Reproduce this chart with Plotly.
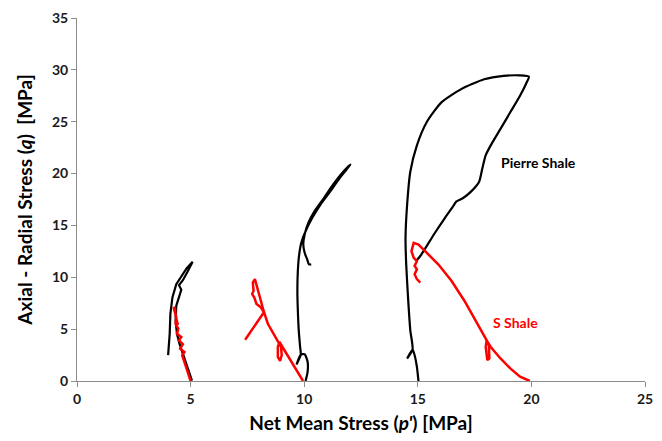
import plotly.graph_objects as go

# Stress paths in p'-q space for two shales at several confining levels

# Pierre Shale, test at p' = 5 MPa
pierre5_p = [5.06, 4.95, 4.80, 4.66, 4.51, 4.40, 4.34, 4.37, 4.49, 4.59, 4.49, 4.66, 4.87, 5.09,
             4.83, 4.59, 4.37, 4.20, 4.11, 4.08, 4.05, 4.01]
pierre5_q = [0.03, 0.74, 1.69, 2.65, 3.60, 4.56, 5.83, 7.27, 8.06, 8.80, 9.24, 9.72, 10.55, 11.50,
             10.87, 10.13, 9.34, 8.06, 6.47, 4.56, 3.28, 2.49]

# S Shale, test at p' = 5 MPa
sshale5_p = [5.00, 4.87, 4.73, 4.63, 4.73, 4.54, 4.66, 4.49, 4.59, 4.40, 4.46, 4.34, 4.37, 4.28,
             4.25, 4.31, 4.34, 4.44]
sshale5_q = [0.00, 0.89, 1.85, 2.49, 2.80, 3.12, 3.54, 3.92, 4.24, 4.56, 5.04, 5.52, 6.15, 6.79,
             7.10, 7.00, 6.30, 5.40]

# Pierre Shale, test at p' = 10 MPa
pierre10_p = [10.06, 10.15, 10.15, 10.02, 9.85, 9.66, 9.85, 9.82, 9.76, 9.72, 9.70, 9.72, 9.78,
              9.87, 10.06, 10.35, 10.71, 11.14, 11.57, 12.04, 11.72, 11.26, 10.86, 10.45, 10.18,
              10.02, 9.96, 10.02, 10.13, 10.21, 10.31]
pierre10_q = [0.00, 0.89, 1.85, 2.58, 2.55, 1.59, 2.55, 3.28, 4.88, 6.79, 8.70, 10.61, 12.20,
              13.32, 14.44, 15.71, 16.99, 18.26, 19.60, 20.87, 20.17, 18.90, 17.62, 16.35, 15.23,
              14.12, 13.16, 12.36, 11.73, 11.25, 11.25]

# S Shale, test at p' = 10 MPa
sshale10_p = [9.95, 9.56, 9.20, 9.02, 8.91, 8.84, 8.84, 8.94, 9.01, 8.98, 8.69, 8.40, 8.23, 8.04,
              7.83, 7.74, 7.77, 7.71, 7.80, 7.90, 8.09, 8.23, 7.83, 7.40]
sshale10_q = [0.00, 1.37, 2.65, 3.28, 3.76, 3.28, 2.32, 1.94, 2.49, 3.28, 4.40, 5.52, 6.63, 8.06,
              9.82, 9.49, 8.70, 8.38, 8.06, 7.43, 7.10, 6.63, 5.35, 3.98]

# Pierre Shale, test at p' = 15 MPa
pierre15_p = [15.03, 14.96, 14.86, 14.77, 14.53, 14.77, 14.67, 14.57, 14.49, 14.46, 14.53, 14.67,
              14.96, 15.39, 16.04, 16.91, 17.92, 18.78, 19.50, 19.89, 19.79, 19.50, 19.07, 18.64,
              18.21, 17.99, 17.84, 17.70, 17.34, 16.98, 16.69, 16.55, 16.19, 15.75, 15.39, 15.11,
              14.92]
pierre15_q = [0.00, 1.37, 2.49, 3.03, 2.17, 3.03, 4.88, 8.06, 11.25, 13.80, 16.99, 20.17, 22.72,
              24.95, 26.86, 28.14, 29.09, 29.42, 29.47, 29.35, 28.78, 27.50, 25.91, 24.31, 22.72,
              21.77, 20.49, 19.22, 18.26, 17.62, 17.30, 16.83, 15.71, 14.27, 13.00, 12.05, 11.57]

# S Shale, test at p' = 20 MPa
sshale20_p = [19.93, 19.50, 19.07, 18.64, 18.21, 18.03, 17.99, 18.06, 18.15, 18.13, 17.99, 17.63,
              17.05, 16.48, 15.90, 15.32, 15.03, 14.82, 14.72, 14.82, 14.96, 14.86, 14.96, 14.86,
              14.96, 15.11]
sshale20_q = [0.00, 0.41, 1.21, 2.17, 3.28, 3.92, 3.28, 2.01, 2.17, 3.44, 4.08, 5.52, 7.74, 9.66,
              11.25, 12.52, 13.16, 13.32, 12.52, 11.88, 11.57, 11.09, 10.77, 10.30, 9.82, 9.49]

x_ticks = [0, 5, 10, 15, 20, 25]
y_ticks = [0, 5, 10, 15, 20, 25, 30, 35]

BLACK = "#000000"
RED = "#ff0000"
FONT = "Lato, 'Open Sans', sans-serif"

fig = go.Figure()

# (p, q, smooth?) -- the long loading loops are drawn as splines
pierre_series = [(pierre5_p, pierre5_q, False), (pierre10_p, pierre10_q, True),
                 (pierre15_p, pierre15_q, True)]
sshale_series = [(sshale5_p, sshale5_q), (sshale10_p, sshale10_q), (sshale20_p, sshale20_q)]

for p, q, smooth in pierre_series:
    line = dict(color=BLACK, width=2.2)
    if smooth:
        line.update(shape="spline", smoothing=0.6)
    fig.add_trace(go.Scatter(x=p, y=q, mode="lines", showlegend=False,
                             line=line, hoverinfo="skip"))
for p, q in sshale_series:
    fig.add_trace(go.Scatter(x=p, y=q, mode="lines", showlegend=False,
                             line=dict(color=RED, width=2.5), hoverinfo="skip"))

fig.add_annotation(x=20.33, y=21.06, text="<b>Pierre Shale</b>", showarrow=False,
                   font=dict(family=FONT, size=14, color=BLACK))
fig.add_annotation(x=19.32, y=5.67, text="<b>S Shale</b>", showarrow=False,
                   font=dict(family=FONT, size=14, color=RED))

axis_common = dict(
    showgrid=False, zeroline=False, showline=True, linecolor="#8c8c8c", linewidth=1,
    ticks="outside", ticklen=5, tickcolor="#8c8c8c", tickwidth=1,
    tickfont=dict(family=FONT, size=14, color="#1a1a1a"),
)

fig.update_xaxes(range=[0, 25], tickvals=x_ticks, ticktext=[f"<b>{v}</b>" for v in x_ticks],
                 title=dict(text="<b>Net Mean Stress (<i>p'</i>) [MPa]</b>",
                            font=dict(family=FONT, size=19, color="#000000"), standoff=10),
                 **axis_common)
fig.update_yaxes(range=[0, 35], tickvals=y_ticks, ticktext=[f"<b>{v}</b>" for v in y_ticks],
                 title=dict(text="<b>Axial - Radial Stress (<i>q</i>)  [MPa]</b>",
                            font=dict(family=FONT, size=19, color="#000000"), standoff=14),
                 **axis_common)

fig.update_layout(
    width=662, height=441,
    margin=dict(l=77, r=9, t=15, b=60),
    paper_bgcolor="white", plot_bgcolor="white",
)

fig.write_html("out.html")
